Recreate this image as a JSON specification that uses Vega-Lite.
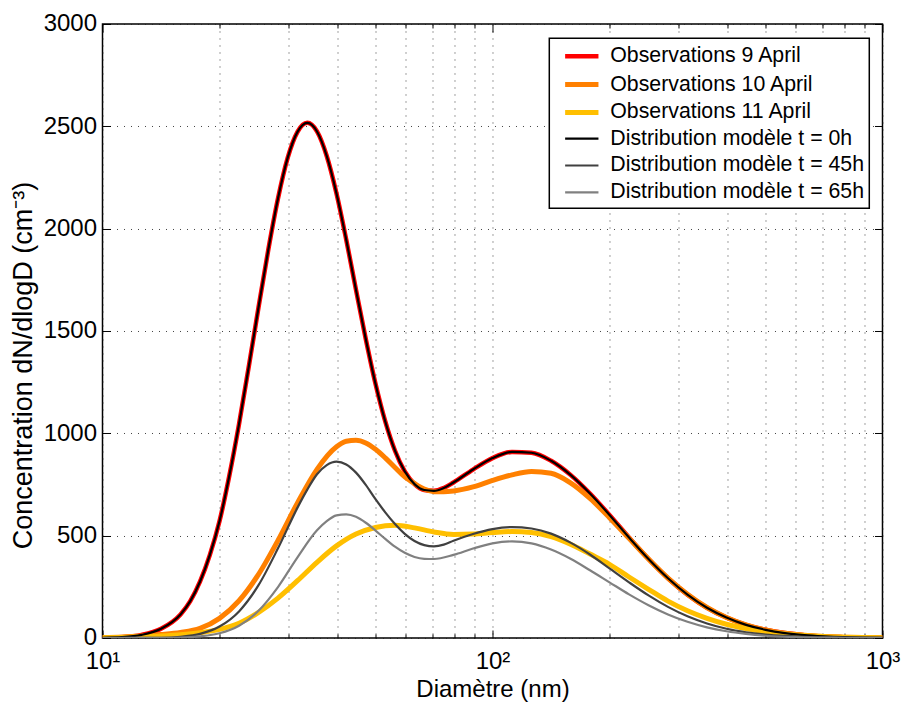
{
  "$schema": "https://vega.github.io/schema/vega-lite/v6.json",
  "width": 780,
  "height": 614,
  "autosize": {"type": "none"},
  "padding": {"left": 102.5, "top": 24, "right": 19.5, "bottom": 63.7},
  "config": {
    "font": "Liberation Sans",
    "view": {"stroke": "#000", "strokeWidth": 1.5},
    "legend": {"strokeWidth": 1.5}
  },
  "data": {"values": [
    {"s":"Observations 9 April","D":10,"v":1},{"s":"Observations 9 April","D":11.22,"v":4},{"s":"Observations 9 April","D":12.59,"v":15},{"s":"Observations 9 April","D":14.13,"v":45},{"s":"Observations 9 April","D":15.85,"v":115},{"s":"Observations 9 April","D":16.79,"v":180},{"s":"Observations 9 April","D":17.78,"v":275},{"s":"Observations 9 April","D":18.84,"v":405},{"s":"Observations 9 April","D":19.95,"v":570},{"s":"Observations 9 April","D":21.13,"v":790},{"s":"Observations 9 April","D":22.39,"v":1045},{"s":"Observations 9 April","D":23.71,"v":1325},{"s":"Observations 9 April","D":25.12,"v":1615},{"s":"Observations 9 April","D":26.61,"v":1896},{"s":"Observations 9 April","D":28.18,"v":2147},{"s":"Observations 9 April","D":29.85,"v":2347},{"s":"Observations 9 April","D":31.62,"v":2473},{"s":"Observations 9 April","D":33.5,"v":2517},{"s":"Observations 9 April","D":35.48,"v":2475},{"s":"Observations 9 April","D":37.58,"v":2355},{"s":"Observations 9 April","D":39.81,"v":2172},{"s":"Observations 9 April","D":42.17,"v":1946},{"s":"Observations 9 April","D":44.67,"v":1701},{"s":"Observations 9 April","D":47.32,"v":1461},{"s":"Observations 9 April","D":50.12,"v":1242},{"s":"Observations 9 April","D":53.09,"v":1058},{"s":"Observations 9 April","D":56.23,"v":915},{"s":"Observations 9 April","D":59.57,"v":814},{"s":"Observations 9 April","D":63.1,"v":752},{"s":"Observations 9 April","D":66.83,"v":723},{"s":"Observations 9 April","D":70.79,"v":719},{"s":"Observations 9 April","D":74.99,"v":733},{"s":"Observations 9 April","D":79.43,"v":760},{"s":"Observations 9 April","D":89.13,"v":823},{"s":"Observations 9 April","D":100,"v":879},{"s":"Observations 9 April","D":112.2,"v":909},{"s":"Observations 9 April","D":125.9,"v":905},{"s":"Observations 9 April","D":141.3,"v":866},{"s":"Observations 9 April","D":158.5,"v":797},{"s":"Observations 9 April","D":177.8,"v":706},{"s":"Observations 9 April","D":199.5,"v":601},{"s":"Observations 9 April","D":223.9,"v":491},{"s":"Observations 9 April","D":251.2,"v":386},{"s":"Observations 9 April","D":281.8,"v":292},{"s":"Observations 9 April","D":316.2,"v":212},{"s":"Observations 9 April","D":354.8,"v":148},{"s":"Observations 9 April","D":398.1,"v":100},{"s":"Observations 9 April","D":446.7,"v":64},{"s":"Observations 9 April","D":501.2,"v":40},{"s":"Observations 9 April","D":562.3,"v":24},{"s":"Observations 9 April","D":631,"v":14},{"s":"Observations 9 April","D":707.9,"v":8},{"s":"Observations 9 April","D":794.3,"v":4},{"s":"Observations 9 April","D":891.3,"v":2},{"s":"Observations 9 April","D":1000,"v":1},

    {"s":"Distribution modèle t = 0h","D":10,"v":1},{"s":"Distribution modèle t = 0h","D":11.22,"v":4},{"s":"Distribution modèle t = 0h","D":12.59,"v":15},{"s":"Distribution modèle t = 0h","D":14.13,"v":45},{"s":"Distribution modèle t = 0h","D":15.85,"v":115},{"s":"Distribution modèle t = 0h","D":16.79,"v":180},{"s":"Distribution modèle t = 0h","D":17.78,"v":275},{"s":"Distribution modèle t = 0h","D":18.84,"v":405},{"s":"Distribution modèle t = 0h","D":19.95,"v":570},{"s":"Distribution modèle t = 0h","D":21.13,"v":790},{"s":"Distribution modèle t = 0h","D":22.39,"v":1045},{"s":"Distribution modèle t = 0h","D":23.71,"v":1325},{"s":"Distribution modèle t = 0h","D":25.12,"v":1615},{"s":"Distribution modèle t = 0h","D":26.61,"v":1896},{"s":"Distribution modèle t = 0h","D":28.18,"v":2147},{"s":"Distribution modèle t = 0h","D":29.85,"v":2347},{"s":"Distribution modèle t = 0h","D":31.62,"v":2473},{"s":"Distribution modèle t = 0h","D":33.5,"v":2517},{"s":"Distribution modèle t = 0h","D":35.48,"v":2475},{"s":"Distribution modèle t = 0h","D":37.58,"v":2355},{"s":"Distribution modèle t = 0h","D":39.81,"v":2172},{"s":"Distribution modèle t = 0h","D":42.17,"v":1946},{"s":"Distribution modèle t = 0h","D":44.67,"v":1701},{"s":"Distribution modèle t = 0h","D":47.32,"v":1461},{"s":"Distribution modèle t = 0h","D":50.12,"v":1242},{"s":"Distribution modèle t = 0h","D":53.09,"v":1058},{"s":"Distribution modèle t = 0h","D":56.23,"v":915},{"s":"Distribution modèle t = 0h","D":59.57,"v":814},{"s":"Distribution modèle t = 0h","D":63.1,"v":752},{"s":"Distribution modèle t = 0h","D":66.83,"v":723},{"s":"Distribution modèle t = 0h","D":70.79,"v":719},{"s":"Distribution modèle t = 0h","D":74.99,"v":733},{"s":"Distribution modèle t = 0h","D":79.43,"v":760},{"s":"Distribution modèle t = 0h","D":89.13,"v":823},{"s":"Distribution modèle t = 0h","D":100,"v":879},{"s":"Distribution modèle t = 0h","D":112.2,"v":909},{"s":"Distribution modèle t = 0h","D":125.9,"v":905},{"s":"Distribution modèle t = 0h","D":141.3,"v":866},{"s":"Distribution modèle t = 0h","D":158.5,"v":797},{"s":"Distribution modèle t = 0h","D":177.8,"v":706},{"s":"Distribution modèle t = 0h","D":199.5,"v":601},{"s":"Distribution modèle t = 0h","D":223.9,"v":491},{"s":"Distribution modèle t = 0h","D":251.2,"v":386},{"s":"Distribution modèle t = 0h","D":281.8,"v":292},{"s":"Distribution modèle t = 0h","D":316.2,"v":212},{"s":"Distribution modèle t = 0h","D":354.8,"v":148},{"s":"Distribution modèle t = 0h","D":398.1,"v":100},{"s":"Distribution modèle t = 0h","D":446.7,"v":64},{"s":"Distribution modèle t = 0h","D":501.2,"v":40},{"s":"Distribution modèle t = 0h","D":562.3,"v":24},{"s":"Distribution modèle t = 0h","D":631,"v":14},{"s":"Distribution modèle t = 0h","D":707.9,"v":8},{"s":"Distribution modèle t = 0h","D":794.3,"v":4},{"s":"Distribution modèle t = 0h","D":891.3,"v":2},{"s":"Distribution modèle t = 0h","D":1000,"v":1},

    {"s":"Observations 10 April","D":10,"v":2},{"s":"Observations 10 April","D":11.22,"v":5},{"s":"Observations 10 April","D":12.59,"v":10},{"s":"Observations 10 April","D":14.13,"v":17},{"s":"Observations 10 April","D":15.85,"v":27},{"s":"Observations 10 April","D":17.78,"v":47},{"s":"Observations 10 April","D":19.95,"v":96},{"s":"Observations 10 April","D":22.39,"v":182},{"s":"Observations 10 April","D":25.12,"v":311},{"s":"Observations 10 April","D":28.18,"v":477},{"s":"Observations 10 April","D":31.62,"v":660},{"s":"Observations 10 April","D":35.48,"v":824},{"s":"Observations 10 April","D":39.81,"v":934},{"s":"Observations 10 April","D":42.17,"v":961},{"s":"Observations 10 April","D":44.67,"v":966},{"s":"Observations 10 April","D":47.32,"v":953},{"s":"Observations 10 April","D":50.12,"v":922},{"s":"Observations 10 April","D":53.09,"v":880},{"s":"Observations 10 April","D":56.23,"v":833},{"s":"Observations 10 April","D":59.57,"v":788},{"s":"Observations 10 April","D":63.1,"v":755},{"s":"Observations 10 April","D":66.83,"v":728},{"s":"Observations 10 April","D":70.79,"v":715},{"s":"Observations 10 April","D":74.99,"v":714},{"s":"Observations 10 April","D":79.43,"v":718},{"s":"Observations 10 April","D":89.13,"v":738},{"s":"Observations 10 April","D":100,"v":770},{"s":"Observations 10 April","D":112.2,"v":797},{"s":"Observations 10 April","D":125.9,"v":813},{"s":"Observations 10 April","D":141.3,"v":805},{"s":"Observations 10 April","D":158.5,"v":758},{"s":"Observations 10 April","D":177.8,"v":682},{"s":"Observations 10 April","D":199.5,"v":588},{"s":"Observations 10 April","D":223.9,"v":487},{"s":"Observations 10 April","D":251.2,"v":386},{"s":"Observations 10 April","D":281.8,"v":293},{"s":"Observations 10 April","D":316.2,"v":214},{"s":"Observations 10 April","D":354.8,"v":149},{"s":"Observations 10 April","D":398.1,"v":100},{"s":"Observations 10 April","D":446.7,"v":64},{"s":"Observations 10 April","D":501.2,"v":39},{"s":"Observations 10 April","D":562.3,"v":23},{"s":"Observations 10 April","D":631,"v":13},{"s":"Observations 10 April","D":707.9,"v":7},{"s":"Observations 10 April","D":794.3,"v":4},{"s":"Observations 10 April","D":891.3,"v":2},{"s":"Observations 10 April","D":1000,"v":1},

    {"s":"Observations 11 April","D":10,"v":1},{"s":"Observations 11 April","D":11.22,"v":3},{"s":"Observations 11 April","D":12.59,"v":6},{"s":"Observations 11 April","D":14.13,"v":10},{"s":"Observations 11 April","D":15.85,"v":16},{"s":"Observations 11 April","D":17.78,"v":26},{"s":"Observations 11 April","D":19.95,"v":42},{"s":"Observations 11 April","D":22.39,"v":72},{"s":"Observations 11 April","D":25.12,"v":125},{"s":"Observations 11 April","D":28.18,"v":195},{"s":"Observations 11 April","D":31.62,"v":280},{"s":"Observations 11 April","D":35.48,"v":370},{"s":"Observations 11 April","D":39.81,"v":450},{"s":"Observations 11 April","D":44.67,"v":508},{"s":"Observations 11 April","D":50.12,"v":540},{"s":"Observations 11 April","D":56.23,"v":551},{"s":"Observations 11 April","D":63.1,"v":538},{"s":"Observations 11 April","D":70.79,"v":518},{"s":"Observations 11 April","D":79.43,"v":506},{"s":"Observations 11 April","D":89.13,"v":508},{"s":"Observations 11 April","D":100,"v":515},{"s":"Observations 11 April","D":112.2,"v":520},{"s":"Observations 11 April","D":125.9,"v":515},{"s":"Observations 11 April","D":141.3,"v":495},{"s":"Observations 11 April","D":158.5,"v":458},{"s":"Observations 11 April","D":177.8,"v":410},{"s":"Observations 11 April","D":199.5,"v":360},{"s":"Observations 11 April","D":223.9,"v":298},{"s":"Observations 11 April","D":251.2,"v":238},{"s":"Observations 11 April","D":281.8,"v":180},{"s":"Observations 11 April","D":316.2,"v":133},{"s":"Observations 11 April","D":354.8,"v":96},{"s":"Observations 11 April","D":398.1,"v":67},{"s":"Observations 11 April","D":446.7,"v":46},{"s":"Observations 11 April","D":501.2,"v":30},{"s":"Observations 11 April","D":562.3,"v":20},{"s":"Observations 11 April","D":631,"v":12},{"s":"Observations 11 April","D":707.9,"v":7},{"s":"Observations 11 April","D":794.3,"v":4},{"s":"Observations 11 April","D":891.3,"v":2},{"s":"Observations 11 April","D":1000,"v":1},

    {"s":"Distribution modèle t = 45h","D":10,"v":0},{"s":"Distribution modèle t = 45h","D":12.59,"v":0.3},{"s":"Distribution modèle t = 45h","D":14.13,"v":1},{"s":"Distribution modèle t = 45h","D":15.85,"v":6},{"s":"Distribution modèle t = 45h","D":17.78,"v":20},{"s":"Distribution modèle t = 45h","D":19.95,"v":56},{"s":"Distribution modèle t = 45h","D":22.39,"v":130},{"s":"Distribution modèle t = 45h","D":25.12,"v":258},{"s":"Distribution modèle t = 45h","D":28.18,"v":438},{"s":"Distribution modèle t = 45h","D":31.62,"v":637},{"s":"Distribution modèle t = 45h","D":33.5,"v":725},{"s":"Distribution modèle t = 45h","D":35.48,"v":800},{"s":"Distribution modèle t = 45h","D":37.58,"v":845},{"s":"Distribution modèle t = 45h","D":39.81,"v":862},{"s":"Distribution modèle t = 45h","D":42.17,"v":848},{"s":"Distribution modèle t = 45h","D":44.67,"v":808},{"s":"Distribution modèle t = 45h","D":47.32,"v":748},{"s":"Distribution modèle t = 45h","D":50.12,"v":678},{"s":"Distribution modèle t = 45h","D":53.09,"v":614},{"s":"Distribution modèle t = 45h","D":56.23,"v":557},{"s":"Distribution modèle t = 45h","D":59.57,"v":509},{"s":"Distribution modèle t = 45h","D":63.1,"v":474},{"s":"Distribution modèle t = 45h","D":66.83,"v":454},{"s":"Distribution modèle t = 45h","D":70.79,"v":448},{"s":"Distribution modèle t = 45h","D":74.99,"v":456},{"s":"Distribution modèle t = 45h","D":79.43,"v":475},{"s":"Distribution modèle t = 45h","D":89.13,"v":508},{"s":"Distribution modèle t = 45h","D":100,"v":532},{"s":"Distribution modèle t = 45h","D":112.2,"v":542},{"s":"Distribution modèle t = 45h","D":125.9,"v":535},{"s":"Distribution modèle t = 45h","D":141.3,"v":510},{"s":"Distribution modèle t = 45h","D":158.5,"v":466},{"s":"Distribution modèle t = 45h","D":177.8,"v":408},{"s":"Distribution modèle t = 45h","D":199.5,"v":340},{"s":"Distribution modèle t = 45h","D":223.9,"v":272},{"s":"Distribution modèle t = 45h","D":251.2,"v":208},{"s":"Distribution modèle t = 45h","D":281.8,"v":152},{"s":"Distribution modèle t = 45h","D":316.2,"v":106},{"s":"Distribution modèle t = 45h","D":354.8,"v":71},{"s":"Distribution modèle t = 45h","D":398.1,"v":45},{"s":"Distribution modèle t = 45h","D":446.7,"v":28},{"s":"Distribution modèle t = 45h","D":501.2,"v":17},{"s":"Distribution modèle t = 45h","D":562.3,"v":10},{"s":"Distribution modèle t = 45h","D":631,"v":5},{"s":"Distribution modèle t = 45h","D":707.9,"v":3},{"s":"Distribution modèle t = 45h","D":794.3,"v":1.5},{"s":"Distribution modèle t = 45h","D":891.3,"v":0.7},{"s":"Distribution modèle t = 45h","D":1000,"v":0.3},

    {"s":"Distribution modèle t = 65h","D":10,"v":0},{"s":"Distribution modèle t = 65h","D":14.13,"v":0.3},{"s":"Distribution modèle t = 65h","D":15.85,"v":2},{"s":"Distribution modèle t = 65h","D":17.78,"v":8},{"s":"Distribution modèle t = 65h","D":19.95,"v":23},{"s":"Distribution modèle t = 65h","D":22.39,"v":60},{"s":"Distribution modèle t = 65h","D":25.12,"v":133},{"s":"Distribution modèle t = 65h","D":28.18,"v":249},{"s":"Distribution modèle t = 65h","D":31.62,"v":394},{"s":"Distribution modèle t = 65h","D":35.48,"v":526},{"s":"Distribution modèle t = 65h","D":37.58,"v":571},{"s":"Distribution modèle t = 65h","D":39.81,"v":599},{"s":"Distribution modèle t = 65h","D":42.17,"v":604},{"s":"Distribution modèle t = 65h","D":44.67,"v":592},{"s":"Distribution modèle t = 65h","D":47.32,"v":563},{"s":"Distribution modèle t = 65h","D":50.12,"v":525},{"s":"Distribution modèle t = 65h","D":53.09,"v":484},{"s":"Distribution modèle t = 65h","D":56.23,"v":446},{"s":"Distribution modèle t = 65h","D":59.57,"v":416},{"s":"Distribution modèle t = 65h","D":63.1,"v":396},{"s":"Distribution modèle t = 65h","D":66.83,"v":387},{"s":"Distribution modèle t = 65h","D":70.79,"v":386},{"s":"Distribution modèle t = 65h","D":79.43,"v":406},{"s":"Distribution modèle t = 65h","D":89.13,"v":437},{"s":"Distribution modèle t = 65h","D":100,"v":462},{"s":"Distribution modèle t = 65h","D":112.2,"v":472},{"s":"Distribution modèle t = 65h","D":125.9,"v":462},{"s":"Distribution modèle t = 65h","D":141.3,"v":432},{"s":"Distribution modèle t = 65h","D":158.5,"v":387},{"s":"Distribution modèle t = 65h","D":177.8,"v":331},{"s":"Distribution modèle t = 65h","D":199.5,"v":272},{"s":"Distribution modèle t = 65h","D":223.9,"v":213},{"s":"Distribution modèle t = 65h","D":251.2,"v":160},{"s":"Distribution modèle t = 65h","D":281.8,"v":115},{"s":"Distribution modèle t = 65h","D":316.2,"v":79},{"s":"Distribution modèle t = 65h","D":354.8,"v":52},{"s":"Distribution modèle t = 65h","D":398.1,"v":33},{"s":"Distribution modèle t = 65h","D":446.7,"v":20},{"s":"Distribution modèle t = 65h","D":501.2,"v":11},{"s":"Distribution modèle t = 65h","D":562.3,"v":6},{"s":"Distribution modèle t = 65h","D":631,"v":3},{"s":"Distribution modèle t = 65h","D":707.9,"v":2},{"s":"Distribution modèle t = 65h","D":794.3,"v":1},{"s":"Distribution modèle t = 65h","D":891.3,"v":0.4},{"s":"Distribution modèle t = 65h","D":1000,"v":0.2}
  ]},
  "layer": [
    {
      "transform": [{"filter": {"field": "s", "oneOf": ["Observations 9 April", "Observations 10 April", "Observations 11 April"]}}],
      "mark": {"type": "line", "interpolate": "monotone", "clip": true},
      "encoding": {
        "x": {"field": "D", "type": "quantitative",
          "scale": {"type": "log", "domain": [10, 1000], "nice": false},
          "axis": {"orient": "bottom", "values": [10,20,30,40,50,60,70,80,90,100,200,300,400,500,600,700,800,900,1000],
            "labelExpr": "datum.value == 10 ? '10¹' : datum.value == 100 ? '10²' : datum.value == 1000 ? '10³' : ''",
            "labelFontSize": 24, "labelColor": "#000", "labelFlush": false, "labelOverlap": false, "labelPadding": 20,
            "tickSize": {"condition": {"test": "datum.value == 10 || datum.value == 100 || datum.value == 1000", "value": -8}, "value": -4},
            "tickColor": "#000", "tickWidth": 1, "domain": false,
            "grid": true, "gridColor": "#222", "gridDash": [1, 6], "gridWidth": 1, "gridOpacity": 0.85,
            "title": "Diamètre (nm)", "titleFontSize": 24, "titleFontWeight": "normal", "titleColor": "#000", "titlePadding": 0}},
        "y": {"field": "v", "type": "quantitative",
          "scale": {"domain": [0, 3000], "nice": false},
          "axis": {"orient": "left", "values": [0,500,1000,1500,2000,2500,3000], "format": "d",
            "labelFontSize": 24, "labelColor": "#000", "labelPadding": 14, "labelFlush": false, "labelOverlap": false,
            "tickSize": -8, "tickColor": "#000", "tickWidth": 1, "domain": false,
            "grid": true, "gridColor": "#222", "gridDash": [1, 6], "gridWidth": 1, "gridOpacity": 0.85,
            "title": "Concentration dN/dlogD (cm⁻³)", "titleFontSize": 27, "titleFontWeight": "normal", "titleColor": "#000", "titlePadding": 6, "titleY": 341}},
        "color": {"field": "s", "type": "nominal",
          "scale": {"domain": ["Observations 9 April", "Observations 10 April", "Observations 11 April", "Distribution modèle t = 0h", "Distribution modèle t = 45h", "Distribution modèle t = 65h"],
                    "range": ["#ff0000", "#ff8000", "#ffbf00", "#000000", "#404040", "#808080"]},
          "legend": {"orient": "none", "legendX": 446.8, "legendY": 14.3, "title": null, "symbolType": "M-1.55,0L1.55,0", "symbolSize": 462.25,
            "labelFontSize": 21.3, "labelColor": "#000", "labelLimit": 400, "padding": 5, "symbolOffset": 14, "labelOffset": 15, "rowPadding": 3.8,
            "strokeColor": "#000", "fillColor": "#fff"}},
        "strokeWidth": {"field": "s", "type": "nominal",
          "scale": {"type": "ordinal", "domain": ["Observations 9 April", "Observations 10 April", "Observations 11 April", "Distribution modèle t = 0h", "Distribution modèle t = 45h", "Distribution modèle t = 65h"],
                    "range": [4.5, 5, 5, 2.2, 2.2, 2.2]},
          "legend": {"orient": "none", "legendX": 446.8, "legendY": 14.3, "title": null, "symbolType": "M-1.55,0L1.55,0", "symbolSize": 462.25,
            "labelFontSize": 21.3, "labelColor": "#000", "labelLimit": 400, "padding": 5, "symbolOffset": 14, "labelOffset": 15, "rowPadding": 3.8,
            "strokeColor": "#000", "fillColor": "#fff"}}
      }
    },
    {
      "transform": [{"filter": {"field": "s", "oneOf": ["Distribution modèle t = 0h", "Distribution modèle t = 45h", "Distribution modèle t = 65h"]}}],
      "mark": {"type": "line", "interpolate": "monotone", "clip": true},
      "encoding": {
        "x": {"field": "D", "type": "quantitative", "scale": {"type": "log", "domain": [10, 1000], "nice": false}, "axis": null},
        "y": {"field": "v", "type": "quantitative", "scale": {"domain": [0, 3000], "nice": false}, "axis": null},
        "color": {"field": "s", "type": "nominal",
          "scale": {"domain": ["Observations 9 April", "Observations 10 April", "Observations 11 April", "Distribution modèle t = 0h", "Distribution modèle t = 45h", "Distribution modèle t = 65h"],
                    "range": ["#ff0000", "#ff8000", "#ffbf00", "#000000", "#404040", "#808080"]}},
        "strokeWidth": {"field": "s", "type": "nominal",
          "scale": {"type": "ordinal", "domain": ["Observations 9 April", "Observations 10 April", "Observations 11 April", "Distribution modèle t = 0h", "Distribution modèle t = 45h", "Distribution modèle t = 65h"],
                    "range": [4.5, 5, 5, 2.2, 2.2, 2.2]}}
      }
    },
    {
      "mark": {"type": "point", "opacity": 0},
      "encoding": {
        "x": {"field": "D", "type": "quantitative", "scale": {"type": "log", "domain": [10, 1000], "nice": false},
          "axis": {"orient": "top", "values": [10,20,30,40,50,60,70,80,90,100,200,300,400,500,600,700,800,900,1000],
            "labels": false, "title": null, "grid": false, "domain": false,
            "tickSize": {"condition": {"test": "datum.value == 10 || datum.value == 100 || datum.value == 1000", "value": -8}, "value": -4},
            "tickColor": "#000", "tickWidth": 1}},
        "y": {"field": "v", "type": "quantitative", "scale": {"domain": [0, 3000], "nice": false},
          "axis": {"orient": "right", "values": [0,500,1000,1500,2000,2500,3000], "labels": false, "title": null, "grid": false, "domain": false,
            "tickSize": -8, "tickColor": "#000", "tickWidth": 1}}
      }
    }
  ],
  "resolve": {"axis": {"x": "independent", "y": "independent"}}
}
